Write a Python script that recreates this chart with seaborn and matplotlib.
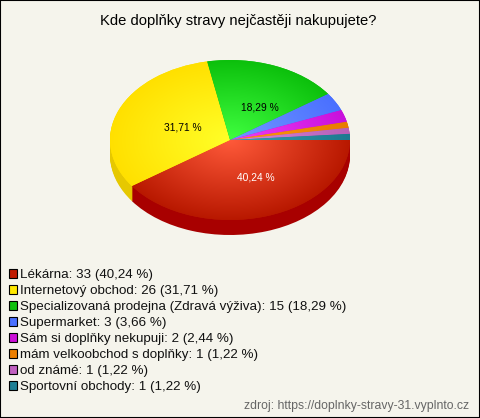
import numpy as np
import matplotlib
matplotlib.use("Agg")
import matplotlib.pyplot as plt
from matplotlib.patches import Patch, Rectangle
import seaborn as sns

categories = ["Lékárna", "Internetový obchod", "Specializovaná prodejna (Zdravá výživa)",
              "Supermarket", "Sám si doplňky nekupuji", "mám velkoobchod s doplňky",
              "od známé", "Sportovní obchody"]
counts = [33, 26, 15, 3, 2, 1, 1, 1]
percents = ["40,24", "31,71", "18,29", "3,66", "2,44", "1,22", "1,22", "1,22"]

title = "Kde doplňky stravy nejčastěji nakupujete?"
source = "zdroj: https://doplnky-stravy-31.vyplnto.cz"

# legend colour, centre of gradient, rim of gradient, side wall
legend_colors = ["#c01a00", "#ffe800", "#0ec00e", "#4a70ff", "#cc10d8", "#ee7f00", "#c060c0", "#1f7f95"]
inner_colors = ["#ff5a3a", "#ffff28", "#40ff40", "#7298ff", "#f040f5", "#ff9a10", "#d888d8", "#3aa0b0"]
outer_colors = ["#b81800", "#ffe000", "#0cc00c", "#4a70ff", "#c810dc", "#e87c00", "#b860b8", "#1c7a90"]
side_colors = ["#a80000", "#e6c800", "#0a9a0a", "#3a58c8", "#a00cb0", "#c06800", "#985098", "#156070"]

BG = "#f5f4ec"
W, H = 480, 418
CX, CY, RX, RY, DEPTH = 230, 140, 120, 80, 15

sns.set_theme(style="white")
plt.rcParams["font.family"] = ["Liberation Sans", "DejaVu Sans"]

fig = plt.figure(figsize=(W / 100, H / 100), dpi=100, facecolor=BG)


def px(x, y):
    return x / W, 1 - y / H


ax = fig.add_axes([(CX - RX) / W, 1 - (CY + RY + DEPTH) / H, 2 * RX / W, (2 * RY + DEPTH) / H])

# side wall, stacked pies going down
for d in range(DEPTH, 0, -1):
    ax.pie(counts, colors=side_colors, startangle=0, counterclock=False, radius=1,
           center=(0, -d / RY), wedgeprops={"linewidth": 0})

wedges, _ = ax.pie(counts, colors=outer_colors, startangle=0, counterclock=False, radius=1,
                   wedgeprops={"linewidth": 0})

# radial shading on top of each slice
gx, gy = np.meshgrid(np.linspace(-1, 1, 300), np.linspace(1, -1, 300))
t = np.clip(np.hypot(gx, gy), 0, 1)[..., None]
for wedge, c0, c1 in zip(wedges, inner_colors, outer_colors):
    a = np.array(matplotlib.colors.to_rgb(c0))
    b = np.array(matplotlib.colors.to_rgb(c1))
    im = ax.imshow(a + (b - a) * t, extent=(-1, 1, -1, 1), aspect="auto", zorder=wedge.get_zorder() + 0.5)
    im.set_clip_path(wedge)

ax.set_aspect("auto")
ax.set_xlim(-1, 1)
ax.set_ylim(-1 - DEPTH / RY, 1)
ax.axis("off")

fig.text(*px(238, 21), title, ha="center", va="center", fontsize=10.6, color="black")

fig.text(*px(256, 178), percents[0] + " %", ha="center", va="center", fontsize=7.4, color="white")
fig.text(*px(183, 127), percents[1] + " %", ha="center", va="center", fontsize=7.4, color="black")
fig.text(*px(260, 107), percents[2] + " %", ha="center", va="center", fontsize=7.4, color="black")

labels = [f"{c}: {n} ({p} %)" for c, n, p in zip(categories, counts, percents)]
handles = [Patch(facecolor=c, edgecolor="black", linewidth=0.8) for c in legend_colors]
fig.legend(handles, labels, loc="upper left", bbox_to_anchor=px(9, 269), frameon=False,
           fontsize=9.6, handlelength=0.6, handleheight=0.6, handletextpad=0.25,
           labelspacing=0.3, borderpad=0, borderaxespad=0, labelcolor="#111111")

fig.text(*px(469, 406), source, ha="right", va="center", fontsize=8.8, color="#666666")

fig.add_artist(Rectangle((0, 0), 1, 1, transform=fig.transFigure, fill=False, edgecolor="black", linewidth=1.5))

fig.savefig("out.png", dpi=100, facecolor=BG)
